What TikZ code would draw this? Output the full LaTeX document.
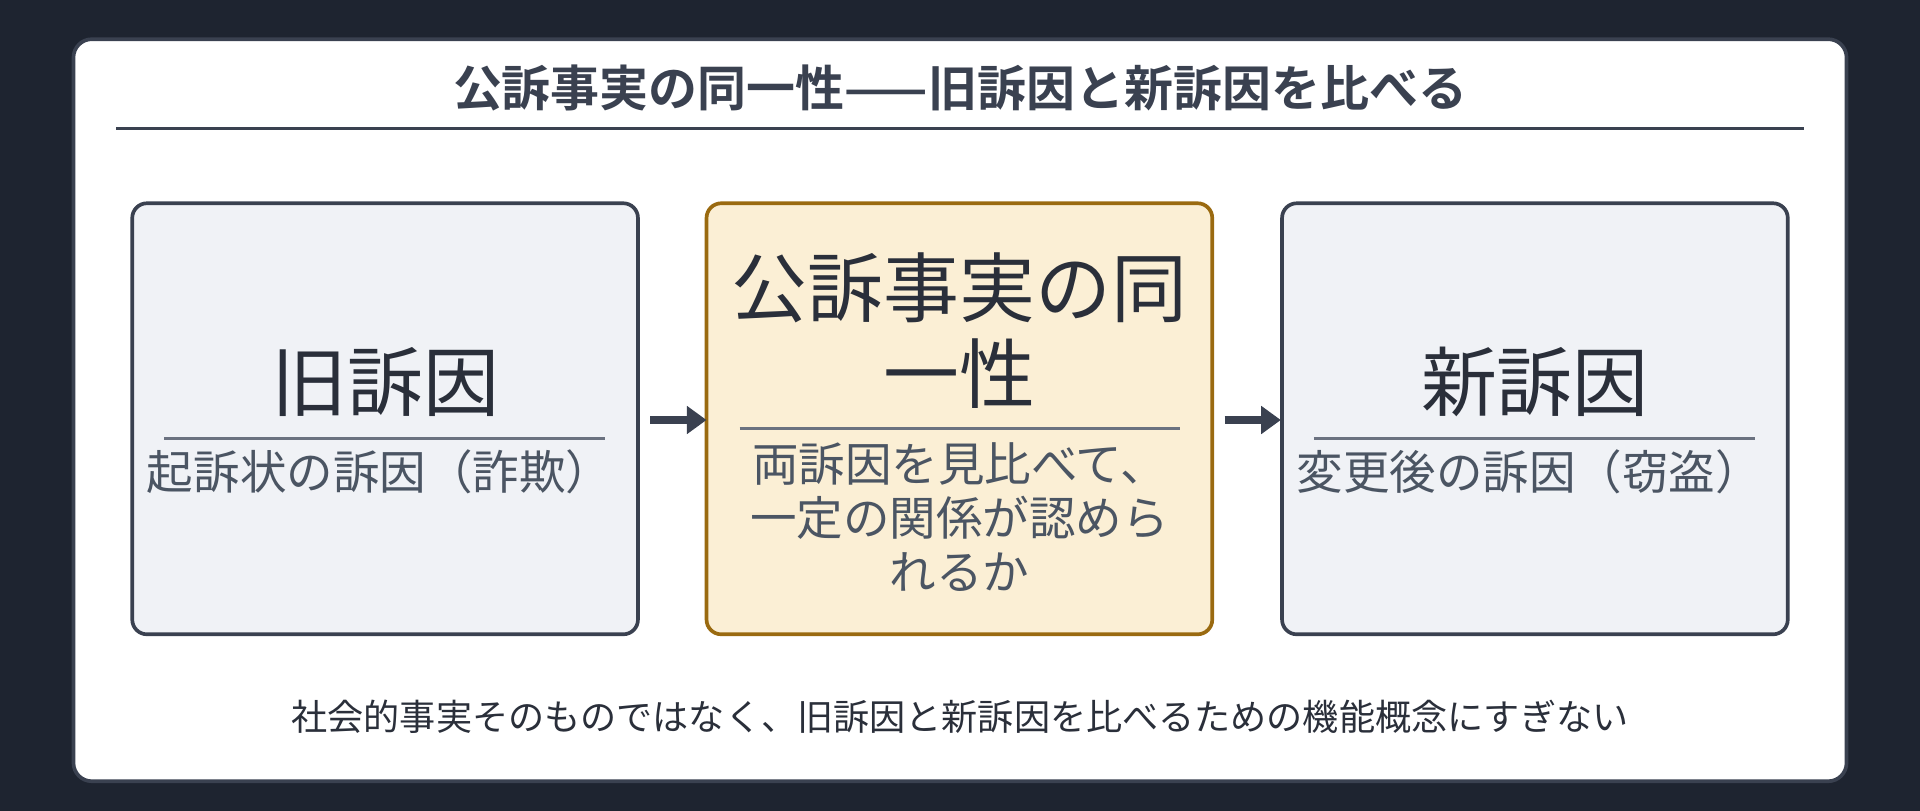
\documentclass[tikz,border=0pt]{standalone}
\usepackage{fontspec}
\setmainfont{Noto Sans CJK JP}
\newfontfamily\cjkb{Noto Sans CJK JP}[BoldFont={* Bold}]
\usetikzlibrary{arrows.meta}
\definecolor{bg}{HTML}{1E2430}
\definecolor{edge}{HTML}{3A4150}
\definecolor{boxfill}{HTML}{F0F2F6}
\definecolor{midfill}{HTML}{FBEFD5}
\definecolor{midedge}{HTML}{9A6A10}
\definecolor{txt}{HTML}{2A2F3A}
\definecolor{sub}{HTML}{4B5563}
\definecolor{rule}{HTML}{6B7280}
\begin{document}
\begin{tikzpicture}[x=1pt,y=-1pt,
  box/.style={draw=edge,line width=3pt,rounded corners=12pt,fill=boxfill},
  big/.style={text=txt,font=\fontsize{62}{70}\selectfont,align=center},
  subt/.style={text=sub,font=\fontsize{38}{44}\selectfont,align=center},
  sep/.style={draw=rule,line width=2pt},
  arr/.style={draw=edge,line width=7pt,-{Triangle[length=16pt,width=22pt]}}]
\fill[bg] (0,0) rectangle (1568,662);
\useasboundingbox (0,0) rectangle (1568,662);
\draw[fill=white,draw=edge,line width=3pt,rounded corners=15pt] (60,32) rectangle (1508,638);
\node[text=edge,font=\cjkb\bfseries\fontsize{40}{40}\selectfont] (title) at (784,72) {公訴事実の同一性——旧訴因と新訴因を比べる};
\draw[edge,line width=2pt] (95,105) -- (1473,105);
\draw[box] (108,166) rectangle (521,518);
\draw[box,fill=midfill,draw=midedge] (577,166) rectangle (990,518);
\draw[box] (1047,166) rectangle (1460,518);
\node[big] (l) at (314.5,312) {旧訴因};
\draw[sep] (134,358) -- (494,358);
\node[subt] (ls) at (310,385) {起訴状の訴因（詐欺）};
\node[big,font=\fontsize{62}{70}\selectfont] (m) at (783.5,270) {公訴事実の同\\一性};
\draw[sep] (604,350) -- (964,350);
\node[subt] (ms) at (783.5,422) {両訴因を見比べて、\\一定の関係が認めら\\れるか};
\node[big] (r) at (1253.5,312) {新訴因};
\draw[sep] (1073,358) -- (1433,358);
\node[subt] (rs) at (1249,385) {変更後の訴因（窃盗）};
\coordinate (a1) at (531,343); \coordinate (a2) at (577,343);
\coordinate (b1) at (1000,343); \coordinate (b2) at (1046,343);
\draw[arr] (a1) -- (a2);
\draw[arr] (b1) -- (b2);
\node[text=txt,font=\fontsize{29.5}{30}\selectfont] (foot) at (784,585) {社会的事実そのものではなく、旧訴因と新訴因を比べるための機能概念にすぎない};
\end{tikzpicture}
\end{document}
